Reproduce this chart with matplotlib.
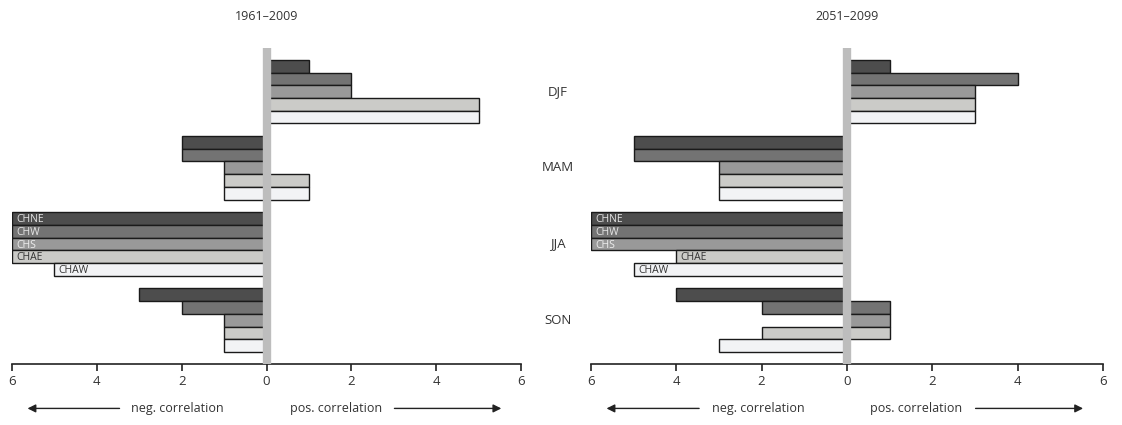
import numpy as np
import matplotlib
matplotlib.use("Agg")
import matplotlib.pyplot as plt
import matplotlib.transforms as mtransforms

plt.rcParams['font.family'] = ['Open Sans', 'DejaVu Sans']

seasons = ["DJF", "MAM", "JJA", "SON"]
regions = ["CHNE", "CHW", "CHS", "CHAE", "CHAW"]
colors = ["#4d4d4d", "#737373", "#999999", "#cbcbc8", "#f2f3f5"]
label_colors = ["#e6e6e6", "#e6e6e6", "#eeeeee", "#333333", "#333333"]

# counts per season (rows) and region (columns)
neg_past = [[0, 0, 0, 0, 0],
            [2, 2, 1, 1, 1],
            [6, 6, 6, 6, 5],
            [3, 2, 1, 1, 1]]
pos_past = [[1, 2, 2, 5, 5],
            [0, 0, 0, 1, 1],
            [0, 0, 0, 0, 0],
            [0, 0, 0, 0, 0]]
neg_future = [[0, 0, 0, 0, 0],
              [5, 5, 3, 3, 3],
              [6, 6, 6, 4, 5],
              [4, 2, 0, 2, 3]]
pos_future = [[1, 4, 3, 3, 3],
              [0, 0, 0, 0, 0],
              [0, 0, 0, 0, 0],
              [0, 1, 1, 1, 0]]

periods = ["1961\u20132009", "2051\u20132099"]
label_season = "JJA"

fig = plt.figure(figsize=(11.22, 4.25), dpi=100)
ax1 = fig.add_axes([0.0107, 0.1435, 0.4537, 0.774])
ax2 = fig.add_axes([0.5267, 0.1435, 0.4563, 0.774])

text_col = "#333333"


def draw(ax, neg, pos, title):
    neg = np.array(neg)
    pos = np.array(pos)
    for g in range(len(seasons)):
        for i in range(len(regions)):
            y = g * 6 + i
            if neg[g, i] > 0:
                ax.barh(y, -neg[g, i], height=1.0, color=colors[i],
                        edgecolor="#1a1a1a", linewidth=1.0, zorder=2)
            if pos[g, i] > 0:
                ax.barh(y, pos[g, i], height=1.0, color=colors[i],
                        edgecolor="#1a1a1a", linewidth=1.0, zorder=2)
            if seasons[g] == label_season and neg[g, i] > 0:
                ax.text(-neg[g, i] + 0.1, y + 0.08, regions[i], fontsize=7.5,
                        color=label_colors[i], va="center", ha="left", zorder=3)
    # grey zero line, starting just above the first bar
    ax.vlines(0, -1.45, 23.45, color="#bdbdbd", linewidth=6, zorder=4)
    ax.set_xlim(-6, 6)
    ax.set_ylim(23.45, -2.45)
    ax.set_yticks([])
    for s in ["top", "left", "right"]:
        ax.spines[s].set_visible(False)
    ax.spines["bottom"].set_color("#222222")
    ax.spines["bottom"].set_linewidth(1.2)
    ticks = np.arange(-6, 7, 2)
    ax.set_xticks(ticks)
    ax.set_xticklabels([str(abs(t)) for t in ticks])
    ax.tick_params(axis="x", direction="out", length=5, width=1.2,
                   color="#222222", labelsize=9.5, labelcolor=text_col, pad=3)
    ax.set_title(title, fontsize=9, color=text_col, pad=11)

    trans = mtransforms.blended_transform_factory(ax.transData, ax.transAxes)
    ya = -0.135
    ax.text(-1.0, ya, "neg. correlation", transform=trans, ha="right",
            va="center", fontsize=9, color=text_col)
    ax.text(0.55, ya, "pos. correlation", transform=trans, ha="left",
            va="center", fontsize=9, color=text_col)
    ax.annotate("", xy=(-5.7, ya), xytext=(-3.4, ya), xycoords=trans,
                textcoords=trans, annotation_clip=False,
                arrowprops=dict(arrowstyle="-|>", color="#222222", lw=1.0,
                                mutation_scale=12))
    ax.annotate("", xy=(5.6, ya), xytext=(2.95, ya), xycoords=trans,
                textcoords=trans, annotation_clip=False,
                arrowprops=dict(arrowstyle="-|>", color="#222222", lw=1.0,
                                mutation_scale=12))


draw(ax1, neg_past, pos_past, periods[0])
draw(ax2, neg_future, pos_future, periods[1])

# season labels between the two panels
strans = mtransforms.blended_transform_factory(fig.transFigure, ax2.transData)
for g, s in enumerate(seasons):
    fig.text(0.497, g * 6 + 2, s, transform=strans, ha="center", va="center",
             fontsize=9.5, color=text_col)

fig.savefig("out.png", dpi=100)
